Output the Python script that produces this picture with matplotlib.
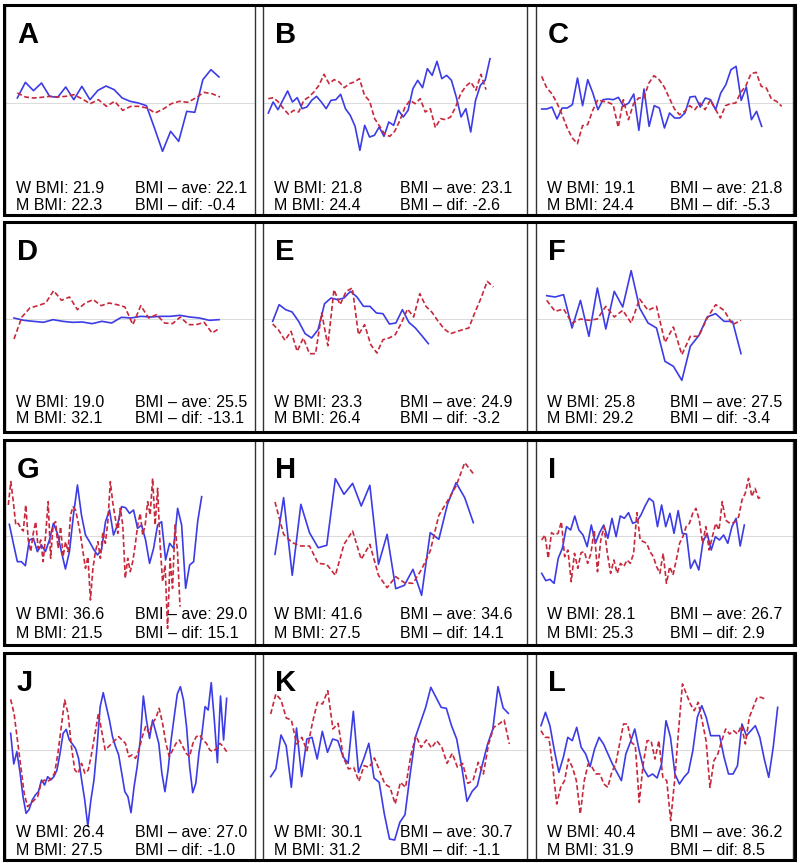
import matplotlib
matplotlib.use("Agg")
import matplotlib.pyplot as plt
from matplotlib.patches import Rectangle
import numpy as np

plt.rcParams['font.family'] = ['Liberation Sans', 'DejaVu Sans']

# panel letters and summary numbers
letters = ['A', 'B', 'C', 'D', 'E', 'F', 'G', 'H', 'I', 'J', 'K', 'L']
w_bmi = ['21.9', '21.8', '19.1', '19.0', '23.3', '25.8', '36.6', '41.6', '28.1', '26.4', '30.1', '40.4']
m_bmi = ['22.3', '24.4', '24.4', '32.1', '26.4', '29.2', '21.5', '27.5', '25.3', '27.5', '31.2', '31.9']
bmi_ave = ['22.1', '23.1', '21.8', '25.5', '24.9', '27.5', '29.0', '34.6', '26.7', '27.0', '30.7', '36.2']
bmi_dif = ['-0.4', '-2.6', '-5.3', '-13.1', '-3.2', '-3.4', '15.1', '14.1', '2.9', '-1.0', '-1.1', '8.5']

# weight deviation from the mean (blue = woman, red dashed = man), arbitrary units
blue_A = [15, 62, 37, 60, 20, 17, 48, 10, 50, 10, 38, 51, 40, 15, 5, 0, -8, -75, -145, -85, -115, -25, -28, 70, 100, 78]
red_A = [30, 18, 15, 17, 20, 18, 20, 25, 12, -2, 10, -10, 5, -22, -10, -10, -15, -30, -18, -2, 5, 2, 15, 32, 28, 18]

blue_B = [-30, 3, -20, 8, 36, 3, 16, -17, -12, 8, 20, 3, -17, 8, 10, 26, -17, -37, -70, -142, -67, -102, -97, -72,
          -100, -57, -67, -22, -42, -22, 43, 68, 46, 103, 83, 125, 73, 83, 68, 18, -42, -17, -87, 8, 53, 68, 133]
red_B = [13, 16, 3, -17, -34, -22, -27, 8, 18, 33, 53, 86, 58, 70, 63, 46, 58, 63, 73, 23, 6, -47, -70, -94, -100,
         -84, -52, -12, 8, -2, 13, -27, -17, -74, -47, -50, -42, -12, 28, 50, 63, 38, 86, 40]

blue_C = [-18, -18, -12, -48, -15, -15, -5, 75, -8, 70, 30, -20, 10, 12, 10, 17, -10, 0, 27, -82, 42, -70, -8, -15,
          -75, -30, -45, -45, -30, 18, 20, -12, 15, 10, -20, 30, 55, 100, 110, 8, 48, -50, -25, -70]
red_C = [80, 45, 28, 0, -35, -75, -105, -122, -68, -65, -22, 10, 5, 2, -5, -73, 10, -50, -2, 15, 15, 60, 82, 70, 48,
         15, -18, -35, -25, -8, -20, 0, -20, 8, -18, -45, -8, -2, 0, 32, 52, 88, 92, 50, 45, 12, 5, -10]

blue_D = [3, -4, -7, -10, -2, -7, -10, -9, -14, -7, -12, 5, 3, 8, 6, 8, 8, 11, 6, 3, -4, -2]
red_D = [-60, 6, 33, 40, 48, 85, 56, 66, 28, 48, 58, 40, 48, 43, 36, -17, 40, 3, 13, -12, -14, 6, -17, -17, -10, -42, -27]

blue_E = [-7, 43, 28, 21, -7, -44, -57, -32, 46, 63, 58, 63, 83, 66, 38, 38, 18, 16, -15, -12, 28, -10, -27, -50, -74]
red_E = [-15, -34, -64, -37, -97, -57, -104, -104, 18, -80, 88, 43, 83, 93, -47, -17, -77, -102, -62, -57, -47, -12,
         30, 6, 76, 38, 20, -7, -30, -44, -38, -32, -27, 20, 63, 113, 96]

blue_F = [70, 66, 73, -27, 56, -52, 93, -30, 83, 36, 145, 33, -12, -27, -127, -142, -184, -82, -50, 6, 16, -7, -7, -104]
red_F = [56, 23, 30, -12, 0, -4, 0, 38, 6, 26, -12, 60, 26, 38, -70, -24, -107, -52, -52, 3, 43, 26, -17, -4]

blue_G = [35, -22, -77, -77, -89, -12, -7, -47, -27, -47, -12, 38, 8, -47, -99, -47, 63, 153, 63, 3, -17, -39, -57,
          -42, 43, 78, 3, 33, 88, 85, 68, 78, 23, 33, -12, -82, -37, 33, 43, -72, -22, -37, 83, 33, -157, -87, -77, 43, 118]
red_G = [93, 163, 103, 33, 38, 23, 15, 93, -12, -47, 8, 43, -37, -12, -77, 3, 103, -67, 33, 43, -37, 28, -62, -17,
         -47, 63, 88, 78, 43, 3, -47, -97, -62, -192, -97, -47, -17, -67, 13, -22, 43, 163, 98, 53, 8, 83, 33, -127,
         -67, -107, -77, -27, 33, 68, 3, 33, 103, 63, 173, 33, 143, -27, -137, -87, -277, -67, -157, 33, -47, -212]

blue_H = [-55, 115, -118, 95, 10, -35, -28, 172, 125, 158, 90, 152, -85, 5, -158, -148, -100, -178, 10, -10, 95, 160, 115, 40]
red_H = [102, 5, -20, -30, -30, -82, -85, -118, -25, 15, -70, -25, -118, -155, -122, -140, -142, -100, -45, 62, 105,
         150, 220, 187]

blue_I = [-112, -134, -130, -142, -67, -37, 28, 18, 60, 18, 3, -32, 33, -22, 10, 33, -7, 53, -2, 60, 53, 70, 38, 43,
          63, 90, 113, 103, 28, 93, 28, 68, 8, 76, 8, 6, -97, -72, -102, -17, 8, -42, -2, -12, 3, -22, 28, 53, -30, 33]
red_I = [-12, 3, -67, 10, 3, 8, 43, -62, -42, -137, -52, -97, -50, -47, -82, -52, 18, -107, -12, 28, -52, -112, -72,
         -112, -82, -92, -72, -82, -52, 70, -12, -17, -22, -47, -62, -92, -112, -52, -142, -92, -117, -72, -22, -2, 28,
         38, 68, 83, 48, -22, 28, -42, -2, 38, 18, 103, 48, 40, 38, 43, 58, 108, 128, 173, 118, 143, 113, 118]

blue_J = [50, -42, -5, -65, -140, -190, -178, -150, -135, -125, -90, -105, -80, -90, -80, -60, -10, 50, 62, 30, 18, 5,
          -25, -90, -150, -228, -150, -90, 10, 130, 172, 130, 90, 40, 10, -15, -70, -125, -140, -188, -110, -50, 30,
          162, 90, 35, 90, 55, 20, -70, -125, -60, 30, 100, 168, 190, 150, 70, -50, -128, -100, -10, 50, 130, 120,
          202, 90, -38, 162, 30, 155]
red_J = [152, 110, 30, -50, -130, -170, -160, -150, -140, -100, -90, -95, -85, -70, -10, 70, 150, 110, 10, -60, -70,
         -40, -70, -60, -10, 50, 110, 55, 0, 10, 20, 30, 40, 30, 20, -20, -15, -25, 0, 40, 70, 50, 80, 95, 125, 80, 20,
         -20, 0, 20, 30, 10, -10, -20, 20, 40, 45, 30, 20, 0, -5, 5, 20, 10, -5]

blue_K = [-80, -57, 45, 13, -112, 66, -80, 33, 38, -27, 56, -7, 33, 28, -20, -40, 116, -67, -27, 20, -84, -97, -192,
          -267, -270, -217, -194, -72, 38, 83, 128, 188, 158, 128, 125, 73, 33, -52, -154, -124, -107, -42, 18, 63,
          190, 126, 110]
red_K = [108, 168, 150, 96, 90, 18, 38, -2, 78, 143, 138, 178, 63, 80, -22, -57, -52, -94, -47, -52, -24, -62, -102,
         -112, -162, -97, -112, -17, 43, 8, 30, 6, 28, 8, -40, -10, -52, -40, -100, -92, -37, -72, 18, 68, 78, 90, 18]

blue_L = [73, 113, 73, -2, -67, -22, 38, 28, 68, 8, -12, -50, 3, 38, 18, -12, -42, -67, -92, -12, 23, 63, -2, -57,
          -80, -72, -84, -42, 88, 38, -72, -102, -82, -67, -2, 98, 133, 98, 43, 43, 43, -22, -72, -72, -47, 78, 43,
          58, 73, 38, -27, -82, 8, 128]
red_L = [58, 38, 38, -52, -162, -112, -92, -27, -52, -92, -192, -92, -42, -52, -72, -72, -102, -112, -67, -42, 18, 78,
         78, 23, 13, -157, -42, 28, 28, -27, 28, -82, -92, -212, -92, 58, 198, 168, 138, 118, 143, 88, 28, -112, -32,
         -12, 28, 63, 48, 58, 48, 73, 18, 98, 128, 158, 158, 153]

blue_series = [blue_A, blue_B, blue_C, blue_D, blue_E, blue_F, blue_G, blue_H, blue_I, blue_J, blue_K, blue_L]
red_series = [red_A, red_B, red_C, red_D, red_E, red_F, red_G, red_H, red_I, red_J, red_K, red_L]

# time span (first day, last day) of each series
blue_days = [(37, 642), (16, 681), (17, 677), (27, 642), (29, 496), (32, 615),
             (13, 590), (36, 631), (17, 625), (17, 665), (23, 736), (15, 725)]
red_days = [(37, 645), (16, 669), (17, 737), (27, 645), (29, 691), (32, 615),
            (10, 525), (36, 631), (17, 677), (17, 665), (23, 739), (15, 687)]

# layout, in pixels of the 800 x 863 image
W, H = 800, 863
col_x = [(5, 255), (263, 527), (536, 793)]
row_y = [(5, 215), (222, 432), (440, 645), (653, 860)]
row_zero = [103, 319, 536, 750]
text_base = [(188, 205), (185, 201), (179, 198), (184, 202)]

fig = plt.figure(figsize=(8, 8.63), dpi=100)
fig.patch.set_facecolor('white')

for i in range(12):
    r, c = divmod(i, 3)
    x0, x1 = col_x[c]
    y0, y1 = row_y[r]
    ax = fig.add_axes([x0 / W, 1 - y1 / H, (x1 - x0) / W, (y1 - y0) / H])
    ax.set_xlim(0, 3 * (x1 - x0))
    ax.set_ylim(-3 * (y1 - row_zero[r]), 3 * (row_zero[r] - y0))
    ax.set_xticks([])
    ax.set_yticks([])
    for s in ax.spines.values():
        s.set_linewidth(1.0)
        s.set_color('#333333')
    ax.axhline(0, color='#dcdcdc', lw=0.8, zorder=1)

    b = blue_series[i]
    rd = red_series[i]
    ax.plot(np.linspace(*blue_days[i], len(b)), b, color='#3c3ce6', lw=1.2, zorder=3)
    ax.plot(np.linspace(*red_days[i], len(rd)), rd, color='#c8283c', lw=1.2,
            dashes=(3, 1.6), zorder=3)

    ax.text(12 / (x1 - x0), 1 - 38 / (y1 - y0), letters[i], transform=ax.transAxes,
            fontsize=21, fontweight='bold', va='baseline', ha='left')
    lx = 0.042
    rx = 0.52
    ya = 1 - text_base[r][0] / (y1 - y0)
    yb = 1 - text_base[r][1] / (y1 - y0)
    fs = 11.5
    ax.text(lx, ya, f'W BMI: {w_bmi[i]}', transform=ax.transAxes, fontsize=fs, va='baseline')
    ax.text(lx, yb, f'M BMI: {m_bmi[i]}', transform=ax.transAxes, fontsize=fs, va='baseline')
    ax.text(rx, ya, f'BMI \u2013 ave: {bmi_ave[i]}', transform=ax.transAxes, fontsize=fs, va='baseline')
    ax.text(rx, yb, f'BMI \u2013 dif: {bmi_dif[i]}', transform=ax.transAxes, fontsize=fs, va='baseline')

# heavy frame around each row
for (y0, y1) in row_y:
    fig.patches.append(Rectangle((4 / W, 1 - y1 / H), 791 / W, (y1 - y0) / H,
                                 transform=fig.transFigure, fill=False,
                                 edgecolor='black', lw=2.2, zorder=10))

fig.savefig('out.png', dpi=100)
